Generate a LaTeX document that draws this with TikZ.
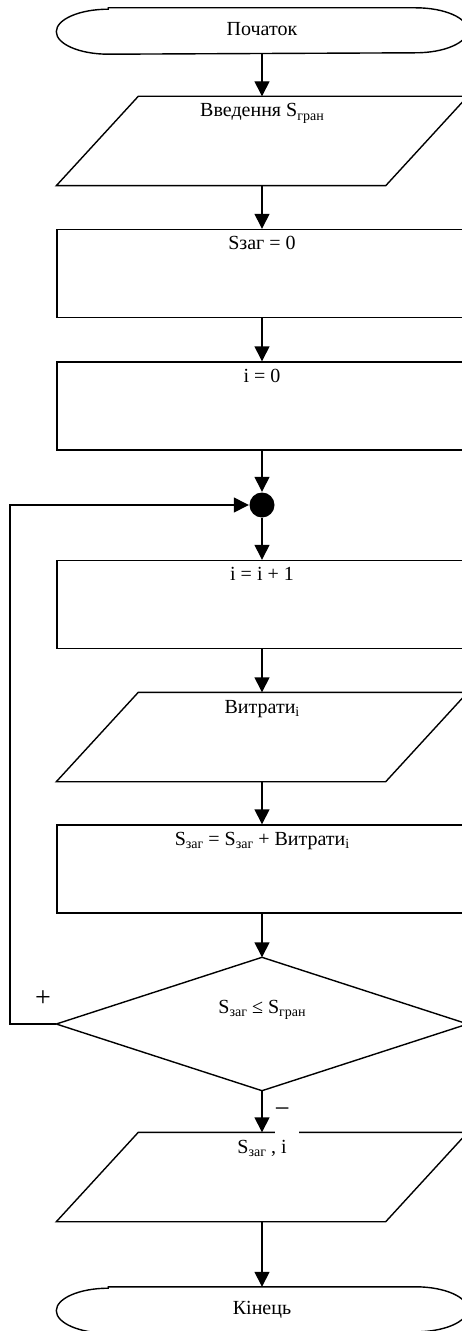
\documentclass[tikz,border=0pt]{standalone}
\usepackage{fontspec}
\setmainfont{Liberation Serif}
\usetikzlibrary{arrows.meta,calc}
\newcommand\sbs[1]{\raisebox{-3.5bp}{\fontsize{14bp}{14bp}\selectfont #1}}
\begin{document}
\begin{tikzpicture}[x=1bp,y=-1bp,line width=1.4bp,
  box/.style={draw=none,minimum width=410bp,inner sep=0},
  procbox/.style={box,draw,minimum height=88bp},
  txt/.style={anchor=base,font=\fontsize{20bp}{24bp}\selectfont,inner sep=0},
  arr/.style={-{Triangle[length=15bp,width=15bp]}}]
\useasboundingbox (0,0) rectangle (462,1331);
\clip (0,0) rectangle (462,1331);
% shapes
\node[box,minimum height=45bp] (t1) at (262,31) {};
\draw ($(t1.north west)+(52,0)$) -- ($(t1.north east)+(-52,0)$) arc[start angle=90,end angle=-90,x radius=52bp,y radius=22.5bp] -- ($(t1.south west)+(52,0)$) arc[start angle=270,end angle=90,x radius=52bp,y radius=22.5bp] -- cycle;
\node[box,minimum height=88bp] (p1) at (262,141) {};
\draw (p1.south west) -- ($(p1.south east)+(-82,0)$) -- (p1.north east) -- ($(p1.north west)+(82,0)$) -- cycle;
\node[procbox] (r1) at (262,273.5) {};
\node[procbox] (r2) at (262,406) {};
\node[circle,fill=black,minimum size=25bp,inner sep=0] (dot) at (262,505) {};
\node[procbox] (r3) at (262,604.5) {};
\node[box,minimum height=88bp] (p2) at (262,737) {};
\draw (p2.south west) -- ($(p2.south east)+(-82,0)$) -- (p2.north east) -- ($(p2.north west)+(82,0)$) -- cycle;
\node[procbox] (r4) at (262,869) {};
\node[box,minimum height=132bp] (d) at (262,1024) {};
\draw (d.north) -- (d.east) -- (d.south) -- (d.west) -- cycle;
\node[box,minimum height=88bp] (p3) at (262,1177) {};
\draw (p3.south west) -- ($(p3.south east)+(-82,0)$) -- (p3.north east) -- ($(p3.north west)+(82,0)$) -- cycle;
\node[box,minimum height=45bp] (t2) at (262,1310) {};
\draw ($(t2.north west)+(52,0)$) -- ($(t2.north east)+(-52,0)$) arc[start angle=90,end angle=-90,x radius=52bp,y radius=22.5bp] -- ($(t2.south west)+(52,0)$) arc[start angle=270,end angle=90,x radius=52bp,y radius=22.5bp] -- cycle;
% texts
\node[txt] (t1txt) at (262,36) {Початок};
\node[txt] (p1txt) at (262,117) {Введення S\sbs{гран}};
\node[txt] (r1txt) at (262,250) {Sзаг = 0};
\node[txt] (r2txt) at (262,382) {i = 0};
\node[txt] (r3txt) at (262,580) {i = i + 1};
\node[txt] (p2txt) at (262,713) {Витрати\sbs{i}};
\node[txt] (r4txt) at (262,845) {S\sbs{заг} = S\sbs{заг} + Витрати\sbs{i}};
\node[txt] (dtxt) at (262,1013) {S\sbs{заг} ≤ S\sbs{гран}};
\node[txt] (p3txt) at (262,1153) {S\sbs{заг} , i};
\node[txt] (t2txt) at (262,1314) {Кінець};
% connectors
\draw[arr] (t1) -- (p1);
\draw[arr] (p1) -- (r1);
\draw[arr] (r1) -- (r2);
\draw[arr] (r2) -- (dot);
\draw[arr] (dot) -- (r3);
\draw[arr] (r3) -- (p2);
\draw[arr] (p2) -- (r4);
\draw[arr] (r4) -- (d);
\draw[arr] (d) -- (p3);
\draw[arr] (p3) -- (t2);
\coordinate (lx) at (10,0);
\draw[arr] (d.west) -- (d.west -| lx) |- (dot);
% branch labels
\node[txt,font=\fontsize{28bp}{32bp}\selectfont] (plus) at (43,1006) {+};
\node[fill=white,inner sep=0,minimum height=44bp,text width=24bp,align=left,anchor=south west,font=\fontsize{27bp}{32bp}\selectfont] (minus) at (274,1135) {−};
\end{tikzpicture}
\end{document}
